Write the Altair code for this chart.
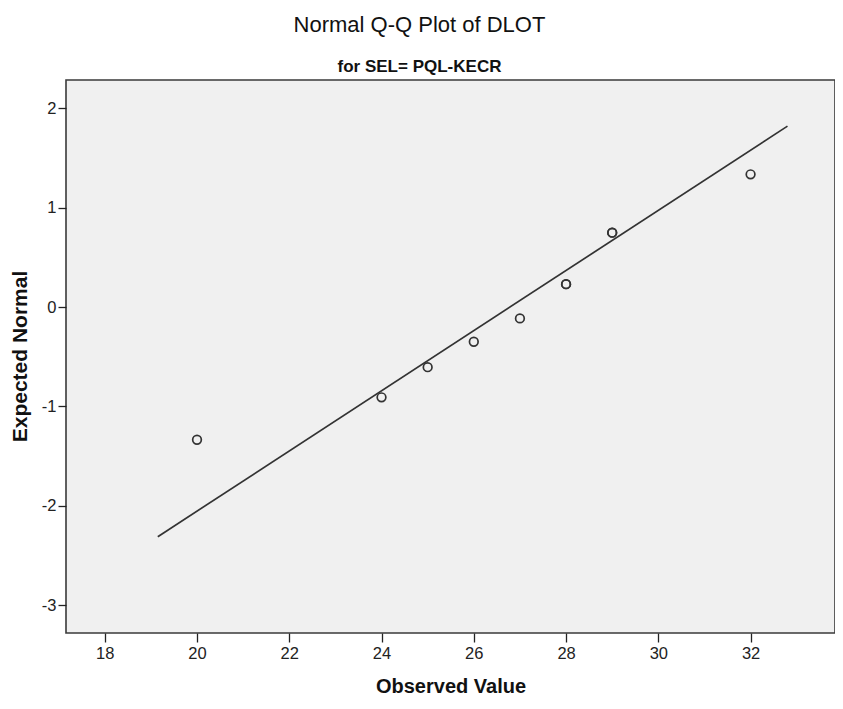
import altair as alt
import pandas as pd

observed = [20, 24, 25, 26, 27, 28, 28, 29, 29, 32]
expected = [-1.335, -0.908, -0.605, -0.349, -0.114, 0.230, 0.230, 0.748, 0.748, 1.335]

# Reference line endpoints
line_x = [19.15, 32.8]
line_y = [-2.31, 1.82]

x_ticks = [18, 20, 22, 24, 26, 28, 30, 32]
y_ticks = [-3, -2, -1, 0, 1, 2]

pts = pd.DataFrame({"obs": observed, "exp": expected})
ln = pd.DataFrame({"obs": line_x, "exp": line_y})

FONT = "Liberation Sans, Arial, sans-serif"

xs = alt.Scale(domain=[17.16, 33.83], nice=False, zero=False)
ys = alt.Scale(domain=[-3.279, 2.284], nice=False, zero=False)

xax = alt.Axis(values=x_ticks, title="Observed Value", grid=False, domain=False,
               labelExpr="toString(datum.value)",
               tickSize=9, tickColor="#222", tickWidth=1.3,
               labelFont=FONT, labelFontSize=16.5, labelColor="#222", labelPadding=3,
               titleFont=FONT, titleFontSize=20, titleFontWeight="bold", titleColor="#111",
               titleY=59, titleBaseline="alphabetic")
yax = alt.Axis(values=y_ticks, title="Expected Normal", grid=False, domain=False,
               labelExpr="toString(datum.value)",
               tickSize=8, tickColor="#222", tickWidth=1.3,
               labelFont=FONT, labelFontSize=16.5, labelColor="#222", labelPadding=2,
               titleFont=FONT, titleFontSize=21, titleFontWeight="bold", titleColor="#111",
               titleX=-46, titleY=276, titleAngle=270, titleAlign="center",
               titleBaseline="middle")

line = alt.Chart(ln).mark_line(color="#333", strokeWidth=1.7, clip=True).encode(
    x=alt.X("obs:Q", scale=xs, axis=xax),
    y=alt.Y("exp:Q", scale=ys, axis=yax),
)

points = alt.Chart(pts).mark_point(filled=False, color="#333", strokeWidth=1.7,
                                   size=75, opacity=1).encode(
    x=alt.X("obs:Q", scale=xs),
    y=alt.Y("exp:Q", scale=ys),
)

chart = alt.layer(line, points).properties(
    width=769,
    height=553,
    title=alt.TitleParams(
        text="Normal Q-Q Plot of DLOT",
        subtitle="for SEL= PQL-KECR",
        anchor="middle",
        dx=-31,
        font=FONT, fontSize=22, fontWeight="normal", color="#111",
        subtitleFont=FONT, subtitleFontSize=17, subtitleFontWeight="bold",
        subtitleColor="#111", subtitlePadding=22, offset=4,
    ),
    autosize=alt.AutoSizeParams(type="none"),
    padding={"left": 58, "top": 72, "right": 0, "bottom": 65},
).configure(
    background="white",
    view=alt.ViewConfig(fill="#f0f0f0", stroke="#3a3a3a", strokeWidth=1.6),
)

chart.save("out.html", embed_options={"renderer": "svg", "actions": False})
